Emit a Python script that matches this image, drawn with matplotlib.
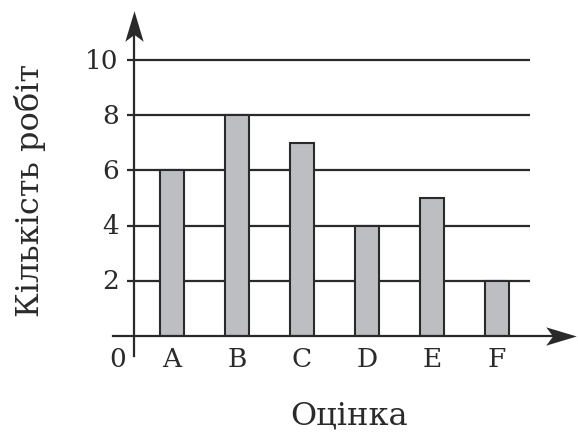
import matplotlib.pyplot as plt
from matplotlib.path import Path

# дані
grades = ["A", "B", "C", "D", "E", "F"]
counts = [6, 8, 7, 4, 5, 2]
yticks = [2, 4, 6, 8, 10]

plt.rcParams['font.family'] = ['DejaVu Serif']
ink = "#2a2a2a"

fig = plt.figure(figsize=(5.78, 4.35), dpi=100)
ax = fig.add_axes([134 / 578, 98 / 435, 441 / 578, 325 / 435])
ax.set_xlim(-0.585, 6.2)
ax.set_ylim(0, 11.78)
ax.axis("off")

pos = list(range(len(grades)))

# сітка
ax.hlines(yticks, -0.69, 5.51, colors=ink, lw=1.6, clip_on=False, zorder=1)

# стовпчики
ax.bar(pos, counts, width=0.37, color="#bdbec1", edgecolor=ink, lw=1.5, zorder=2)

# осі
ax.plot([-0.585, -0.585], [-0.72, 11.0], color=ink, lw=1.6, clip_on=False, zorder=3)
ax.plot([-0.91, 5.9], [0, 0], color=ink, lw=1.6, clip_on=False, zorder=3)

# стрілки з вирізом
up = Path([(0, 1), (-0.6, -1), (0, -0.55), (0.6, -1), (0, 1)],
          [Path.MOVETO, Path.LINETO, Path.LINETO, Path.LINETO, Path.CLOSEPOLY])
right = Path([(1, 0), (-1, 0.6), (-0.55, 0), (-1, -0.6), (1, 0)],
             [Path.MOVETO, Path.LINETO, Path.LINETO, Path.LINETO, Path.CLOSEPOLY])
ax.plot([-0.585], [11.23], marker=up, markersize=22, color=ink, mew=0, clip_on=False, zorder=4)
ax.plot([5.98], [0], marker=right, markersize=22, color=ink, mew=0, clip_on=False, zorder=4)

# підписи
for v in yticks:
    ax.text(-0.82, v, str(v), ha="right", va="center", fontsize=19, color=ink)
for p, g in zip(pos, grades):
    ax.text(p, -0.8, g, ha="center", va="center", fontsize=19, color=ink)
ax.text(-0.83, -0.8, "0", ha="center", va="center", fontsize=19, color=ink)

fig.text(349 / 578, 1 - 416 / 435, "Оцінка", ha="center", va="center", fontsize=23, color=ink)
fig.text(30 / 578, 1 - 190 / 435, "Кількість робіт", ha="center", va="center",
         rotation=90, fontsize=23, color=ink)

fig.savefig("out.png", dpi=100)
